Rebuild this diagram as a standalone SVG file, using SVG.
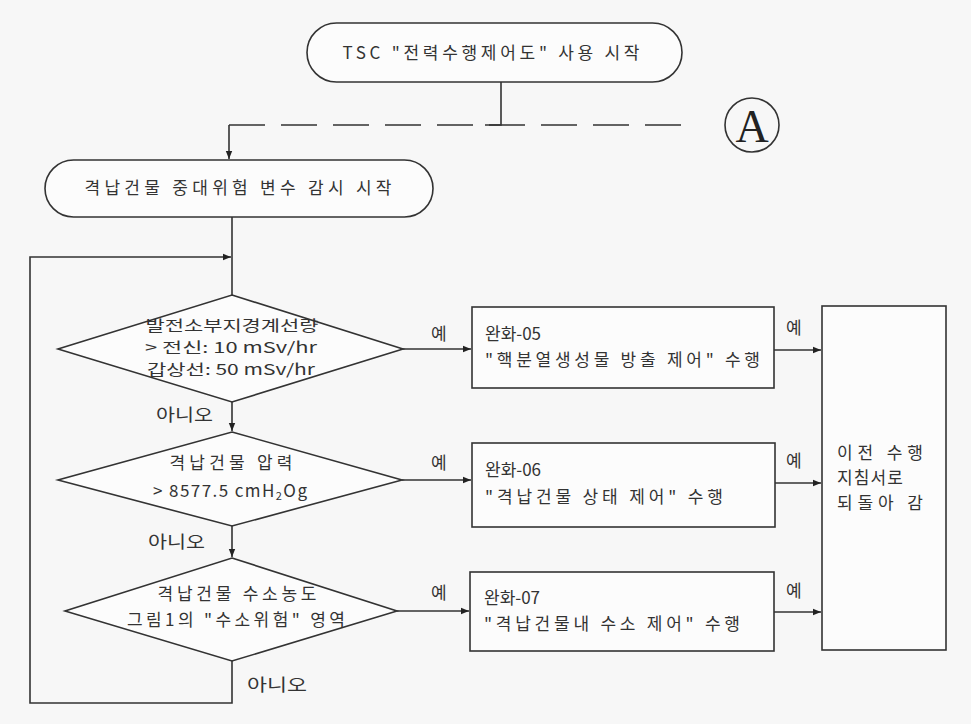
<svg xmlns="http://www.w3.org/2000/svg" width="971" height="724" viewBox="0 0 971 724">
<style>
.s{fill:none;stroke:#333;stroke-width:1.6}
.b{fill:#fcfcfc;stroke:#333;stroke-width:1.6}
.t{font-family:"Noto Sans CJK KR","Noto Sans",sans-serif;font-size:17px;fill:#333}
.d{font-size:15px}
.m{text-anchor:middle}
</style>
<defs>
<marker id="ar" viewBox="0 0 10 10" refX="10" refY="5" markerWidth="9" markerHeight="8" markerUnits="userSpaceOnUse" orient="auto">
<path d="M0,1 L10,5 L0,9 Z" fill="#222"/>
</marker>
</defs>
<rect width="971" height="724" fill="#f7f7f7"/>
<g id="connectors">
<path class="s" d="M501,82 V125 H485"/>
<line class="s" x1="229" y1="125" x2="697" y2="125" stroke-dasharray="36 16"/>
<path class="s" d="M229,125 V159" marker-end="url(#ar)"/>
<line class="s" x1="232" y1="217" x2="232" y2="295"/>
<path class="s" d="M232,661 V703 H30 V257 H231" marker-end="url(#ar)"/>
<line class="s" x1="232" y1="402" x2="232" y2="431" marker-end="url(#ar)"/>
<line class="s" x1="232" y1="526" x2="232" y2="557" marker-end="url(#ar)"/>
<line class="s" x1="403" y1="349" x2="471" y2="349" marker-end="url(#ar)"/>
<line class="s" x1="402" y1="480" x2="471" y2="480" marker-end="url(#ar)"/>
<line class="s" x1="397" y1="611" x2="469" y2="611" marker-end="url(#ar)"/>
<line class="s" x1="774" y1="350" x2="821" y2="350" marker-end="url(#ar)"/>
<line class="s" x1="775" y1="483" x2="821" y2="483" marker-end="url(#ar)"/>
<line class="s" x1="774" y1="612" x2="821" y2="612" marker-end="url(#ar)"/>
<text class="t" x="431" y="340">예</text>
<text class="t" x="431" y="469">예</text>
<text class="t" x="431" y="599">예</text>
<text class="t" x="786" y="334">예</text>
<text class="t" x="786" y="467">예</text>
<text class="t" x="786" y="597">예</text>
<text class="t" x="156" y="421" textLength="57" lengthAdjust="spacingAndGlyphs">아니오</text>
<text class="t" x="148" y="548" textLength="57" lengthAdjust="spacingAndGlyphs">아니오</text>
<text class="t" x="247" y="691" textLength="60" lengthAdjust="spacingAndGlyphs">아니오</text>
</g>
<g id="start">
<rect class="b" x="307" y="23" width="375" height="59" rx="29.5"/>
<text class="t m" x="491" y="59" textLength="297" lengthAdjust="spacing">TSC "전력수행제어도" 사용 시작</text>
</g>
<g id="circleA">
<circle class="s" cx="752" cy="125" r="27"/>
<text x="752" y="142" text-anchor="middle" font-family="Liberation Serif,serif" font-size="46" fill="#222">A</text>
</g>
<g id="monitor">
<rect class="b" x="45" y="160" width="388" height="57" rx="28.5"/>
<text class="t m" x="238" y="194" textLength="307" lengthAdjust="spacing">격납건물 중대위험 변수 감시 시작</text>
</g>
<g id="d1">
<path class="b" d="M232,295 L403,349 L232,402 L58,349 Z"/>
<text class="t d m" x="232" y="331" textLength="173" lengthAdjust="spacingAndGlyphs">발전소부지경계선량</text>
<text class="t d m" x="231" y="353" textLength="172" lengthAdjust="spacingAndGlyphs">&gt; 전신: 10 mSv/hr</text>
<text class="t d m" x="231" y="375" textLength="168" lengthAdjust="spacingAndGlyphs">갑상선: 50 mSv/hr</text>
</g>
<g id="d2">
<path class="b" d="M232,432 L402,480 L232,526 L58,480 Z"/>
<text class="t m" x="231" y="469" textLength="123" lengthAdjust="spacing">격납건물 압력</text>
<text class="t m" x="230" y="497" textLength="154" lengthAdjust="spacing">&gt; 8577.5 cmH<tspan font-size="11" dy="3">2</tspan><tspan dy="-3">Og</tspan></text>
</g>
<g id="d3">
<path class="b" d="M232,558 L397,611 L232,661 L65,611 Z"/>
<text class="t m" x="237" y="600" textLength="159" lengthAdjust="spacing">격납건물 수소농도</text>
<text class="t m" x="236" y="626" textLength="218" lengthAdjust="spacing">그림1의 "수소위험" 영역</text>
</g>
<g id="box1">
<rect class="b" x="472" y="307" width="302" height="81"/>
<text class="t" x="485" y="340">완화-05</text>
<text class="t" x="485" y="366" textLength="275" lengthAdjust="spacing">"핵분열생성물 방출 제어" 수행</text>
</g>
<g id="box2">
<rect class="b" x="472" y="443" width="303" height="84"/>
<text class="t" x="485" y="476">완화-06</text>
<text class="t" x="485" y="503" textLength="238" lengthAdjust="spacing">"격납건물 상태 제어" 수행</text>
</g>
<g id="box3">
<rect class="b" x="470" y="572" width="304" height="79"/>
<text class="t" x="484" y="604">완화-07</text>
<text class="t" x="484" y="630" textLength="256" lengthAdjust="spacing">"격납건물내 수소 제어" 수행</text>
</g>
<g id="return">
<rect class="b" x="822" y="306" width="124" height="344"/>
<text class="t" x="837" y="459" textLength="86" lengthAdjust="spacing">이전 수행</text>
<text class="t" x="837" y="484" textLength="66" lengthAdjust="spacing">지침서로</text>
<text class="t" x="837" y="509" textLength="86" lengthAdjust="spacing">되돌아 감</text>
</g>
</svg>
